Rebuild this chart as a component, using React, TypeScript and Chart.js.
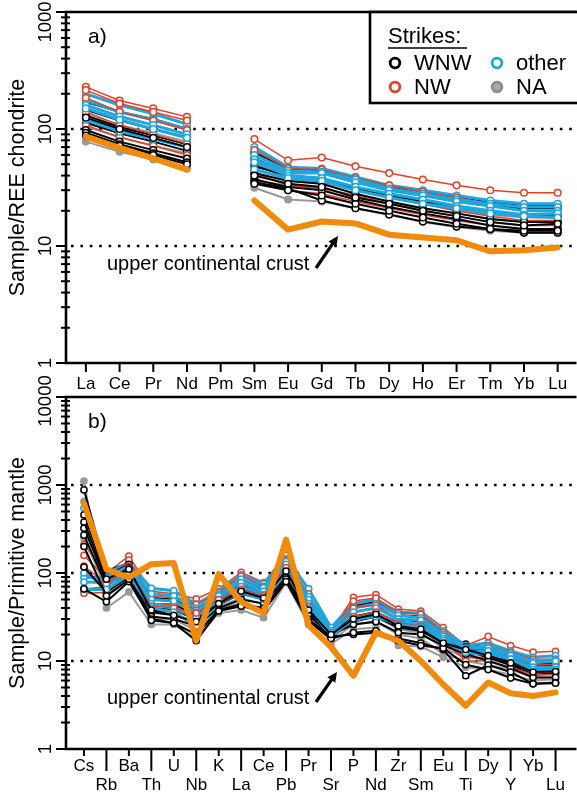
import { useEffect, useRef } from 'react';
import { Chart, registerables } from 'chart.js';

Chart.register(...registerables);

// ---------- categories ----------
const reeLabels = ['La', 'Ce', 'Pr', 'Nd', 'Pm', 'Sm', 'Eu', 'Gd', 'Tb', 'Dy', 'Ho', 'Er', 'Tm', 'Yb', 'Lu'];
const pmLabels = ['Cs', 'Rb', 'Ba', 'Th', 'U', 'Nb', 'K', 'La', 'Ce', 'Pb', 'Pr', 'Sr', 'P', 'Nd', 'Zr', 'Sm', 'Eu', 'Ti', 'Dy', 'Y', 'Yb', 'Lu'];

const reeTicks = [1, 10, 100, 1000];
const pmTicks = [1, 10, 100, 1000, 10000];

// ---------- panel a: chondrite normalised REE (Pm = no data) ----------
const reeNW = [
  [229, 175, 150, 127, null, 82, 54, 57, 48, 42, 37, 33, 30, 28.5, 28.5],
  [215, 165, 140, 118, null, 66, 46, 45, 38, 33, 29, 26, 23, 21, 21],
  [185, 140, 118, 98, null, 50, 38, 36, 30, 26, 23, 20, 18, 16.5, 16.5],
  [140, 108, 90, 75, null, 42, 33, 31, 27, 23, 20, 18, 16, 15, 15],
  [108, 85, 72, 60, null, 38, 30, 28, 24, 21, 18.5, 16.5, 15, 14, 14],
];
const reeOther = [
  [200, 160, 135, 110, null, 70, 47, 46, 39, 33, 30, 27, 24.5, 23, 23],
  [175, 140, 120, 100, null, 60, 44, 43, 37, 31, 28, 25, 23, 21.5, 21.5],
  [160, 128, 108, 90, null, 55, 42, 42, 35, 30, 27, 24, 22, 20, 20],
  [150, 120, 100, 84, null, 52, 40, 38, 32, 28, 25, 22, 20, 18.5, 19],
  [120, 95, 82, 70, null, 45, 38, 36, 30, 26, 23, 21, 19, 18, 17.5],
];
const reeWNW = [
  [170, 140, 122, 100, null, 63, 45, 44, 37, 32, 29, 26, 23.5, 22, 22],
  [146, 118, 100, 85, null, 56, 42, 42, 35, 30, 27, 24, 22, 21, 21],
  [130, 104, 88, 74, null, 48, 40, 38, 31, 27, 24, 21.5, 19.5, 18, 18],
  [113, 92, 78, 65, null, 42, 36, 34, 28, 24, 21, 19, 17, 16, 16],
  [98, 78, 66, 56, null, 37, 32, 30, 25, 21.5, 19, 17, 15, 14, 14],
  [93, 74, 62, 52, null, 35, 31, 24.5, 21, 18.6, 16.2, 14.7, 13.9, 13, 13],
  [88, 72, 60, 50, null, 34, 30, 27, 23, 20, 17.5, 15.5, 14, 13.5, 13.5],
  [125, 100, 84, 70, null, 40, 34, 32, 26, 23, 20, 18, 16, 15, 15.5],
];
const reeNA = [
  [78, 64, 55, 46, null, 31.5, 25, 24, 21, 18.5, 16, 14.5, 13.5, 13, 13],
  [105, 85, 72, 62, null, 36, 33, 31, 27, 23, 21, 19, 17, 16, 16],
  [135, 108, 92, 78, null, 45, 37, 35, 30, 26, 23, 20, 18.5, 17.5, 17.5],
];
const reeUCC = [86, 69, 56, 45, null, 24.5, 13.8, 16.2, 15.6, 12.5, 11.8, 11.2, 9.0, 9.2, 9.7];

// ---------- panel b: primitive mantle normalised ----------
const pmNW = [
  [210, 100, 156, 62, 58, 51, 66, 102, 78, 160, 66, 22, 53, 57, 39, 37, 24, 15, 19, 15, 12.6, 12.9],
  [159, 85, 140, 55, 52, 44, 60, 92, 70, 140, 58, 21, 48, 52, 35, 34, 21, 14, 15, 12.5, 10.5, 10.5],
  [66, 70, 120, 45, 44, 38, 52, 72, 60, 120, 48, 20, 40, 43, 30, 29, 19, 13, 13, 11, 9, 9.2],
  [59, 60, 100, 38, 36, 33, 47, 60, 50, 110, 40, 19, 30, 34, 25, 24, 16, 11, 11, 9, 7.5, 7.5],
  [120, 75, 110, 42, 40, 35, 50, 65, 55, 115, 42, 18, 32, 36, 27, 25, 17, 10, 10, 8.5, 7, 7],
];
const pmOther = [
  [547, 100, 130, 67, 63, 44, 62, 95, 75, 145, 66, 24, 45, 50, 36, 35, 22, 15, 16, 13, 11, 11.5],
  [89, 90, 120, 58, 55, 40, 57, 85, 68, 135, 54, 22, 40, 45, 33, 31, 20, 14, 14.5, 12, 10, 10.3],
  [79, 78, 112, 50, 48, 36, 55, 78, 62, 125, 50, 21, 36, 40, 30, 29, 19, 14, 14, 11.5, 9.5, 10],
  [100, 72, 105, 45, 40, 32, 50, 70, 57, 110, 45, 20, 28, 35, 28, 26, 18, 12, 12, 10.5, 8.5, 8.5],
  [65, 65, 95, 40, 36, 25, 45, 60, 50, 100, 40, 19, 30, 32, 26, 24, 17, 12.5, 13, 10.5, 8, 8],
];
const pmWNW = [
  [880, 105, 130, 52, 50, 37, 57, 85, 66, 130, 52, 20, 42, 47, 33, 32, 20, 15.6, 14, 12, 9.5, 9.5],
  [457, 93, 125, 44, 44, 33, 52, 75, 60, 120, 45, 21, 36, 40, 30, 28, 18.5, 14.5, 13, 11, 9, 9],
  [323, 80, 115, 40, 38, 30, 47, 65, 55, 110, 40, 20, 32, 36, 27, 25, 17, 14, 12, 10, 8, 8.2],
  [270, 72, 100, 36, 33, 28, 44, 58, 50, 100, 36, 19, 28, 32, 24, 22, 16, 13, 11, 9, 7, 7.2],
  [117, 60, 90, 32, 30, 25, 40, 50, 45, 90, 33, 20, 26, 28, 21, 20, 15, 12, 10, 8.3, 6.5, 6.5],
  [66, 47, 80, 30, 27, 20, 38, 44, 40, 85, 30, 19, 20, 21, 18, 16, 13.5, 6.8, 9, 7.5, 5.5, 5.7],
  [200, 55, 85, 29, 27, 17, 37, 42, 37, 80, 28, 18, 21, 22, 17, 15, 14, 9.1, 8, 6.4, 5.5, 5.6],
  [380, 85, 110, 38, 33, 28, 45, 62, 52, 105, 38, 20, 30, 34, 25, 23, 16, 13.5, 11.5, 9.5, 7.5, 7.6],
];
const pmNA = [
  [1109, 40, 61, 26, 26, 18, 35, 38, 31, 78, 26, 15.6, 23, 24, 15, 14.6, 11, 8.5, 8, 7, 6, 6.2],
  [650, 55, 80, 30, 30, 22, 40, 45, 38, 90, 30, 17, 26, 28, 20, 18, 12, 10, 9, 8, 6.5, 6.5],
  [250, 65, 90, 35, 34, 26, 42, 52, 44, 95, 35, 18, 30, 32, 23, 21, 14, 11, 10.5, 9, 7, 7.2],
];
const pmUCC = [620, 110, 89, 126, 130, 17, 97, 47, 35, 240, 25.6, 14.5, 6.8, 21, 17, 10, 5.4, 3.1, 5.7, 4.3, 4.0, 4.4];

// ---------- styles ----------
const C_BLACK = '#000000';
const C_RED = '#e6402a';
const C_BLUE = '#1ea6de';
const C_GRAY = '#999999';
const C_ORANGE = '#f28a0a';
const FONT = '"Liberation Sans", Arial, sans-serif';

type Row = (number | null)[];

function toPts(row: Row) {
  return row.map((v, i) => ({ x: i, y: v }));
}

function sampleSet(row: Row, color: string, fill: string, lw: number, r: number, order: number) {
  return {
    data: toPts(row),
    borderColor: color,
    borderWidth: lw,
    pointRadius: r,
    pointBorderWidth: 1.5,
    pointBorderColor: color,
    pointBackgroundColor: fill,
    spanGaps: false,
    tension: 0,
    order,
  };
}

function buildSets(na: Row[], nw: Row[], other: Row[], wnw: Row[], ucc: Row, r: number) {
  const sets: any[] = [];
  let o = 1000;
  na.forEach((row) => sets.push(sampleSet(row, C_GRAY, C_GRAY, 2, r, o--)));
  const n = Math.max(nw.length, other.length, wnw.length);
  for (let i = 0; i < n; i++) {
    if (nw[i]) sets.push(sampleSet(nw[i], C_RED, '#ffffff', 1.5, r, o--));
    if (wnw[i]) sets.push(sampleSet(wnw[i], C_BLACK, '#ffffff', 2, r, o--));
    if (other[i]) sets.push(sampleSet(other[i], C_BLUE, '#ffffff', 3, r, o--));
  }
  sets.push({
    data: toPts(ucc),
    borderColor: C_ORANGE,
    borderWidth: 6,
    pointRadius: 0,
    spanGaps: false,
    tension: 0,
    order: 0,
    borderJoinStyle: 'round',
    borderCapStyle: 'round',
  });
  return sets;
}

function txt(ctx: CanvasRenderingContext2D, s: string, x: number, y: number, size: number, align: CanvasTextAlign = 'center', rot = 0, sx = 1) {
  ctx.save();
  ctx.translate(x, y);
  if (rot) ctx.rotate(rot);
  ctx.scale(sx, 1);
  ctx.font = `${size}px ${FONT}`;
  ctx.textAlign = align;
  ctx.textBaseline = 'middle';
  ctx.fillStyle = '#000';
  ctx.fillText(s, 0, 0);
  ctx.restore();
}

function arrow(ctx: CanvasRenderingContext2D, x0: number, y0: number, x1: number, y1: number) {
  const ang = Math.atan2(y1 - y0, x1 - x0);
  const hl = 11;
  ctx.save();
  ctx.strokeStyle = '#000';
  ctx.fillStyle = '#000';
  ctx.lineWidth = 3.2;
  ctx.beginPath();
  ctx.moveTo(x0, y0);
  ctx.lineTo(x1 - Math.cos(ang) * 6, y1 - Math.sin(ang) * 6);
  ctx.stroke();
  ctx.beginPath();
  ctx.moveTo(x1, y1);
  ctx.lineTo(x1 - hl * Math.cos(ang - 0.45), y1 - hl * Math.sin(ang - 0.45));
  ctx.lineTo(x1 - hl * Math.cos(ang + 0.45), y1 - hl * Math.sin(ang + 0.45));
  ctx.closePath();
  ctx.fill();
  ctx.restore();
}

type PanelCfg = {
  labels: string[];
  ticks: number[];
  dotted: number[];
  title: string;
  letter: string;
  letterY: number;
  twoRows: boolean;
  note: { x: number; y: number; ax0: number; ay0: number; ax1: number; ay1: number };
  legend: boolean;
  topLabelShift: number;
};

function decoPlugin(cfg: PanelCfg) {
  return {
    id: 'deco',
    beforeDatasetsDraw(chart: any) {
      const { ctx, chartArea: a, scales } = chart;
      const y = scales.y;
      ctx.save();
      ctx.strokeStyle = '#000';
      ctx.lineWidth = 2.6;
      ctx.setLineDash([2.6, 6.8]);
      for (const v of cfg.dotted) {
        const py = Math.round(y.getPixelForValue(v));
        ctx.beginPath();
        ctx.moveTo(a.left + 5, py);
        ctx.lineTo(a.right + 5, py);
        ctx.stroke();
      }
      ctx.restore();
    },
    afterDraw(chart: any) {
      const { ctx, chartArea: a, scales } = chart;
      const x = scales.x;
      const y = scales.y;
      ctx.save();
      ctx.strokeStyle = '#000';
      ctx.lineCap = 'butt';
      ctx.lineWidth = 2.6;
      ctx.beginPath();
      ctx.moveTo(a.left, a.top);
      ctx.lineTo(a.left, a.bottom);
      ctx.lineTo(a.right + 5, a.bottom);
      ctx.moveTo(a.left - 1.3, a.top);
      ctx.lineTo(a.right + 5, a.top);
      ctx.stroke();
      const lo = cfg.ticks[0];
      const hi = cfg.ticks[cfg.ticks.length - 1];
      ctx.lineWidth = 2;
      for (let d = lo; d <= hi; d *= 10) {
        const py = y.getPixelForValue(d);
        ctx.beginPath();
        ctx.moveTo(a.left - 10, py);
        ctx.lineTo(a.left, py);
        ctx.stroke();
        if (d < hi) {
          for (let m = 2; m <= 9; m++) {
            const pm = y.getPixelForValue(d * m);
            ctx.beginPath();
            ctx.moveTo(a.left - 5, pm);
            ctx.lineTo(a.left + 4, pm);
            ctx.stroke();
          }
        }
      }
      cfg.ticks.forEach((t, i) => {
        let py = y.getPixelForValue(t);
        if (i === cfg.ticks.length - 1) py += cfg.topLabelShift;
        txt(ctx, String(t), a.left - 20, py, 18.5, 'center', -Math.PI / 2);
      });
      ctx.lineWidth = 2;
      cfg.labels.forEach((lab, i) => {
        const px = x.getPixelForValue(i);
        if (!cfg.twoRows) {
          ctx.beginPath();
          ctx.moveTo(px, a.bottom);
          ctx.lineTo(px, a.bottom + 9);
          ctx.stroke();
          txt(ctx, lab, px, a.bottom + 21, 17);
        } else {
          const upper = i % 2 === 0;
          ctx.beginPath();
          ctx.moveTo(px, a.bottom);
          ctx.lineTo(px, a.bottom + (upper ? 7 : 22));
          ctx.stroke();
          txt(ctx, lab, px, a.bottom + (upper ? 17 : 36), 17);
        }
      });
      txt(ctx, cfg.title, 18, (a.top + a.bottom) / 2, 21.5, 'center', -Math.PI / 2);
      txt(ctx, cfg.letter, 88, cfg.letterY, 21, 'left');
      txt(ctx, 'upper continental crust', cfg.note.x, cfg.note.y, 20, 'left');
      arrow(ctx, cfg.note.ax0, cfg.note.ay0, cfg.note.ax1, cfg.note.ay1);
      if (cfg.legend) {
        const bx = 370, by = a.top, bw = 210, bh = 91;
        ctx.fillStyle = '#fff';
        ctx.fillRect(bx, by, bw, bh);
        ctx.lineWidth = 2.6;
        ctx.strokeRect(bx, by, bw, bh);
        txt(ctx, 'Strikes:', 388, 37, 22, 'left');
        ctx.lineWidth = 1.6;
        ctx.beginPath();
        ctx.moveTo(388, 48);
        ctx.lineTo(467, 48);
        ctx.stroke();
        const items = [
          { cx: 395, cy: 63, c: C_BLACK, f: '#fff', t: 'WNW' },
          { cx: 497, cy: 63, c: C_BLUE, f: '#fff', t: 'other' },
          { cx: 395, cy: 87, c: C_RED, f: '#fff', t: 'NW' },
          { cx: 497, cy: 87, c: '#8c8c8c', f: '#a8a8a8', t: 'NA' },
        ];
        for (const it of items) {
          ctx.beginPath();
          ctx.arc(it.cx, it.cy, 4.8, 0, Math.PI * 2);
          ctx.fillStyle = it.f;
          ctx.fill();
          ctx.lineWidth = 2.8;
          ctx.strokeStyle = it.c;
          ctx.stroke();
          txt(ctx, it.t, it.cx + 19, it.cy + 1, 22, 'left');
        }
      }
      ctx.restore();
    },
  };
}

function makeConfig(sets: any[], xmin: number, xmax: number, ymax: number, pad: any, cfg: PanelCfg) {
  return {
    type: 'line' as const,
    data: { datasets: sets },
    options: {
      responsive: false,
      animation: false as const,
      devicePixelRatio: 1,
      layout: { padding: pad },
      scales: {
        x: { type: 'linear' as const, display: false, min: xmin, max: xmax },
        y: { type: 'logarithmic' as const, display: false, min: 1, max: ymax },
      },
      plugins: { legend: { display: false }, tooltip: { enabled: false } },
      elements: { line: { tension: 0 } },
    },
    plugins: [decoPlugin(cfg)],
  };
}

export default function App() {
  const refA = useRef<HTMLCanvasElement>(null);
  const refB = useRef<HTMLCanvasElement>(null);

  useEffect(() => {
    document.body.style.margin = '0';
    const cfgA: PanelCfg = {
      labels: reeLabels,
      ticks: reeTicks,
      dotted: [10, 100],
      title: 'Sample/REE chondrite',
      letter: 'a)',
      letterY: 37,
      twoRows: false,
      note: { x: 107, y: 264, ax0: 316, ay0: 268, ax1: 338, ay1: 236 },
      legend: true,
      topLabelShift: 10,
    };
    // panel b canvas starts at page y = 360
    const cfgB: PanelCfg = {
      labels: pmLabels,
      ticks: pmTicks,
      dotted: [10, 100, 1000],
      title: 'Sample/Primitive mantle',
      letter: 'b)',
      letterY: 62,
      twoRows: true,
      note: { x: 107, y: 338, ax0: 316, ay0: 342, ax1: 337, ay1: 312 },
      legend: false,
      topLabelShift: 4,
    };
    const setsA = buildSets(reeNA, reeNW, reeOther, reeWNW, reeUCC, 3.3);
    const setsB = buildSets(pmNA, pmNW, pmOther, pmWNW, pmUCC, 3.1);
    const ca = new Chart(refA.current as HTMLCanvasElement, makeConfig(setsA, -0.59, 14.41, 1000, { left: 66, top: 12, right: 2, bottom: 30 }, cfgA) as any);
    const cb = new Chart(refB.current as HTMLCanvasElement, makeConfig(setsB, -0.8, 21.71, 10000, { left: 66, top: 37, right: 2, bottom: 44 }, cfgB) as any);
    return () => {
      ca.destroy();
      cb.destroy();
    };
  }, []);

  return (
    <div style={{ position: 'relative', width: 577, height: 793, background: '#fff', overflow: 'hidden' }}>
      <canvas ref={refA} width={577} height={393} style={{ position: 'absolute', left: 0, top: 0, width: 577, height: 393 }} />
      <canvas ref={refB} width={577} height={433} style={{ position: 'absolute', left: 0, top: 360, width: 577, height: 433 }} />
    </div>
  );
}
